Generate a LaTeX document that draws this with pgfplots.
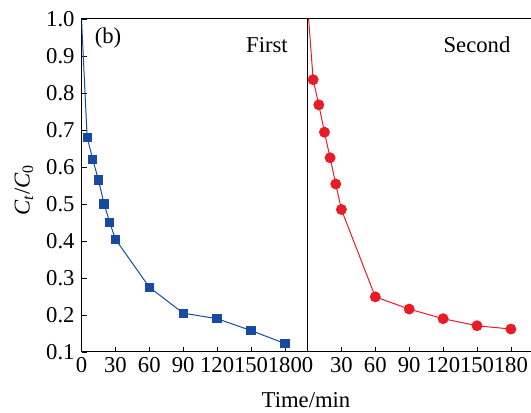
\documentclass[border=0pt]{standalone}
\usepackage{fontspec}
\setmainfont{Liberation Serif}
\usepackage{pgfplots}
\pgfplotsset{compat=1.18}
\definecolor{runblue}{RGB}{24,74,162}
\definecolor{runred}{RGB}{232,28,38}

\pgfplotsset{
  panel/.style={
    scale only axis,
    anchor=south west,
    width=169.5pt, height=249.75pt,
    xmin=0, xmax=200, ymin=0.1, ymax=1.0,
    xtick={0,30,...,180},
    xtick pos=bottom,
    ytick pos=left,
    tick align=inside,
    major tick length=3.75pt,
    tick style={black, line width=0.6pt},
    axis line style={black, line width=0.75pt},
    /pgf/number format/assume math mode=true,
    ticklabel style={font=\fontsize{17}{20}\selectfont},
    xticklabel style={inner sep=2pt, yshift=-2pt},
    yticklabel style={inner sep=2pt, xshift=-3pt},
    clip=true,
  }
}

\begin{document}
\fontsize{17}{20}\selectfont
\begin{tikzpicture}[x=0.75pt,y=0.75pt]
\path[use as bounding box] (0,0) rectangle (531,413);

% first run
\begin{axis}[panel, at={(61.125pt,45.75pt)},
  ytick={0.1,0.2,...,1.0},
  yticklabel style={/pgf/number format/.cd, fixed, fixed zerofill, precision=1},
]
\addplot[runblue, line width=0.75pt, mark=square*, mark size=3.1pt,
  mark indices={2,3,...,12}, mark options={solid, fill=runblue, draw=runblue}]
  coordinates {
  (0,1.0) (5,0.680) (10,0.620) (15,0.565) (20,0.500) (25,0.450) (30,0.405)
  (60,0.275) (90,0.205) (120,0.190) (150,0.158) (180,0.123)
  };
\end{axis}

% second run
\begin{axis}[panel, at={(230.625pt,45.75pt)},
  ytick=\empty,
]
\addplot[runred, line width=0.75pt, mark=*, mark size=3.7pt,
  mark indices={2,3,...,12}, mark options={solid, fill=runred, draw=runred}]
  coordinates {
  (1,1.0) (5,0.836) (10,0.768) (15,0.694) (20,0.625) (25,0.554) (30,0.485)
  (60,0.249) (90,0.216) (120,0.190) (150,0.171) (180,0.162)
  };
\end{axis}

\node at (108,375) {(b)};
\node at (267,368) {First};
\node at (477,368) {Second};
\node at (306,13) {Time/min};
\node[rotate=90] at (24,223) {\textit{C}\textsubscript{\textit{t}}/\textit{C}\textsubscript{0}};
\end{tikzpicture}
\end{document}
